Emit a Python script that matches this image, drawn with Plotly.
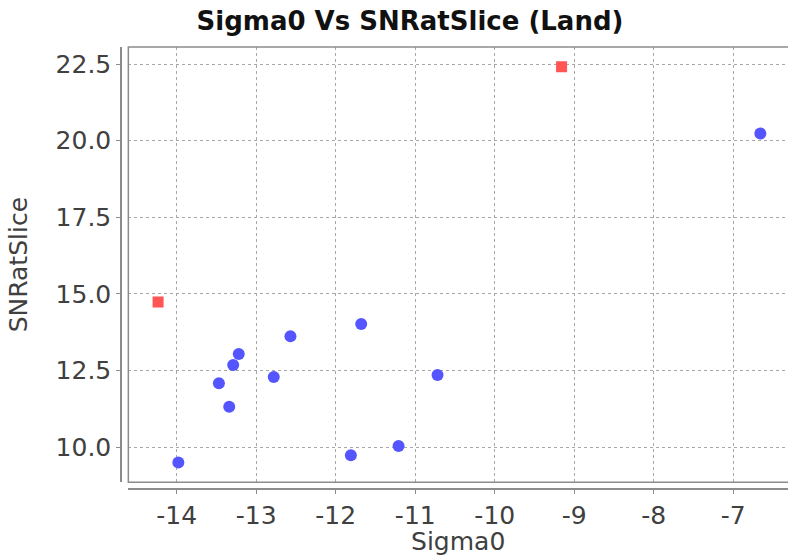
import plotly.graph_objects as go

# Data
blue_x = [-13.98, -13.47, -13.34, -13.29, -13.22, -12.78, -12.57, -11.68, -11.81, -11.21, -10.72, -6.66]
blue_y = [9.50, 12.09, 11.32, 12.68, 13.04, 12.29, 13.62, 14.02, 9.74, 10.04, 12.36, 20.23]
red_x = [-14.235, -9.16]
red_y = [14.74, 22.41]

x_ticks = [-14, -13, -12, -11, -10, -9, -8, -7]
x_tick_labels = ["-14", "-13", "-12", "-11", "-10", "-9", "-8", "-7"]
y_ticks = [10.0, 12.5, 15.0, 17.5, 20.0, 22.5]
y_tick_labels = ["10.0", "12.5", "15.0", "17.5", "20.0", "22.5"]

title_text = "Sigma0 Vs SNRatSlice (Land)"
x_title = "Sigma0"
y_title = "SNRatSlice"

FONT = "DejaVu Sans"
GRID = "#a8a8a8"
AXIS = "#8c8c8c"

fig = go.Figure()
fig.add_trace(go.Scatter(
    x=blue_x, y=blue_y, mode="markers",
    marker=dict(symbol="circle", size=12, color="#5555ff", line=dict(width=0)),
    showlegend=False, hoverinfo="x+y",
))
fig.add_trace(go.Scatter(
    x=red_x, y=red_y, mode="markers",
    marker=dict(symbol="square", size=11, color="#ff5555", line=dict(width=0)),
    showlegend=False, hoverinfo="x+y",
))

fig.update_layout(
    width=788, height=556,
    margin=dict(l=121, r=0, t=47, b=67, pad=0, autoexpand=False),
    paper_bgcolor="white", plot_bgcolor="white",
    title=dict(text=title_text, x=410 / 788, xref="container", xanchor="center",
               y=1 - 21 / 556, yref="container", yanchor="middle",
               font=dict(family=FONT, size=26, color="#111111", weight="bold")),
    xaxis=dict(
        domain=[0.011, 1], range=[-14.609, -6.312], anchor="free", position=0,
        tickmode="array", tickvals=x_ticks, ticktext=x_tick_labels,
        ticks="outside", ticklen=4, tickcolor=AXIS, tickwidth=1,
        showline=True, linecolor=AXIS, linewidth=1.5,
        showgrid=True, gridcolor=GRID, griddash="3px,3px", gridwidth=1,
        zeroline=False, automargin=False,
        tickfont=dict(family=FONT, size=25, color="#404040"),
        title=dict(text=x_title, font=dict(family=FONT, size=25, color="#404040"), standoff=6),
    ),
    yaxis=dict(
        domain=[0.0152, 1], range=[8.858, 23.055], anchor="free", position=0,
        tickmode="array", tickvals=y_ticks, ticktext=y_tick_labels,
        ticks="outside", ticklen=4, tickcolor=AXIS, tickwidth=1,
        showline=True, linecolor=AXIS, linewidth=1.5,
        showgrid=True, gridcolor=GRID, griddash="3px,3px", gridwidth=1,
        zeroline=False, automargin=False,
        tickfont=dict(family=FONT, size=25, color="#404040"),
        title=dict(text=y_title, font=dict(family=FONT, size=25, color="#404040"), standoff=20),
    ),
    shapes=[dict(type="rect", xref="x domain", yref="y domain", x0=0, x1=1.02, y0=0, y1=1,
                 line=dict(color=AXIS, width=1.5), fillcolor="rgba(0,0,0,0)", layer="above")],
)

fig.write_html("out.html", config={"displayModeBar": False},
               post_script="document.body.style.margin='0';document.body.style.overflow='hidden';")
